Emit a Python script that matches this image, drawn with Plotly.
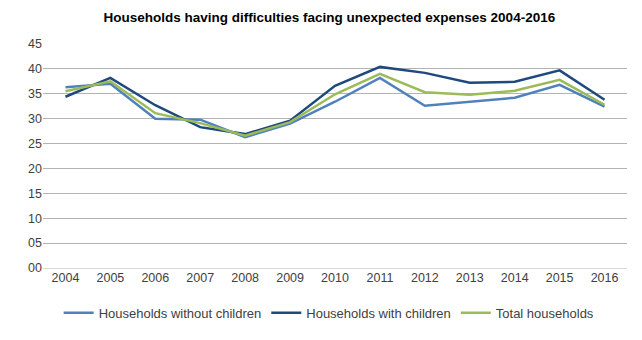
import plotly.graph_objects as go

years = [str(y) for y in range(2004, 2017)]
without_children = [36.3, 37.0, 30.0, 29.8, 26.3, 29.0, 33.4, 38.2, 32.6, 33.4, 34.2, 36.8, 32.4]
with_children = [34.4, 38.2, 32.7, 28.3, 26.9, 29.6, 36.6, 40.4, 39.2, 37.2, 37.4, 39.7, 33.8]
total = [35.5, 37.5, 31.1, 29.1, 26.6, 29.3, 34.9, 39.0, 35.3, 34.8, 35.6, 37.8, 32.8]
names = ["Households without children", "Households with children", "Total households"]
colors = ["#4F81BD", "#1F497D", "#9BBB59"]

fig = go.Figure()
for name, vals, c in zip(names, [without_children, with_children, total], colors):
    fig.add_trace(go.Scatter(x=years, y=vals, name=name, mode="lines",
                             line=dict(color=c, width=2.5)))

font = "Liberation Sans Narrow, Arial Narrow, Liberation Sans, sans-serif"
fig.update_layout(
    width=642, height=340,
    margin=dict(l=43, r=15, t=44, b=70),
    paper_bgcolor="white", plot_bgcolor="white",
    font=dict(family=font, size=12, color="#404040"),
    title=dict(text="<b>Households having difficulties facing unexpected expenses 2004-2016</b>",
               x=0.513, xanchor="center", y=0.95, yanchor="middle",
               font=dict(size=13.5, color="#000000", family=font)),
    showlegend=True,
    legend=dict(orientation="h", x=0.49, xanchor="center", y=-0.2, yanchor="middle",
                font=dict(size=13, color="#404040"), itemwidth=30, tracegroupgap=0),
)
fig.update_xaxes(type="category", showgrid=False, showline=False, ticks="",
                 tickfont=dict(size=12.5, color="#404040"), range=[-0.5, 12.5])
fig.update_yaxes(range=[0, 45], dtick=5, tickformat="02d", showgrid=True,
                 gridcolor="#B4B4B4", gridwidth=1, zeroline=True, zerolinecolor="#D9D9D9",
                 zerolinewidth=1, showline=False, ticks="",
                 tickfont=dict(size=12.5, color="#404040"))
fig.write_html("out.html")
